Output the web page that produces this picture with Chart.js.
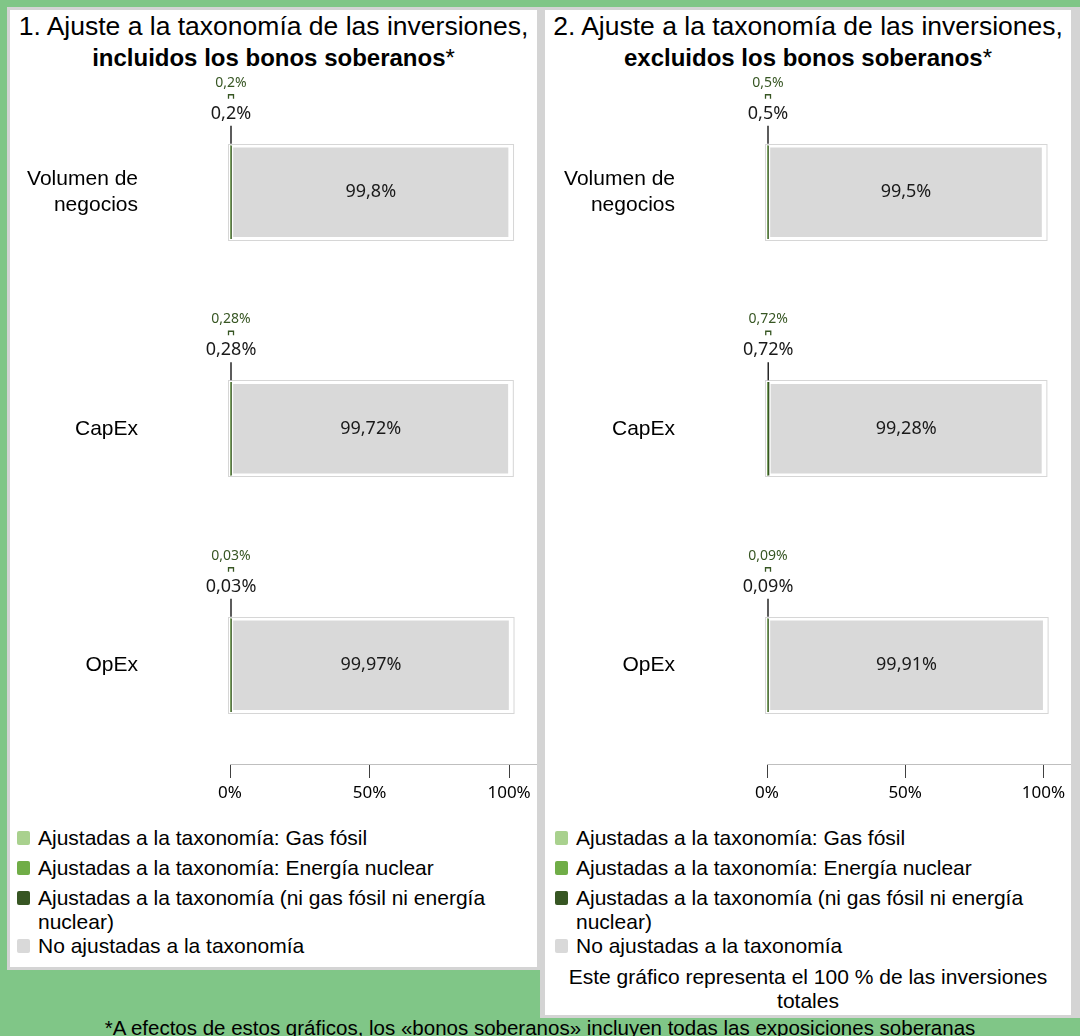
<!DOCTYPE html>
<html lang="es">
<head>
<meta charset="utf-8">
<title>Ajuste a la taxonomía de las inversiones</title>
<script src="https://cdn.jsdelivr.net/npm/chart.js@4.4.1/dist/chart.umd.min.js"></script>
<style>
  html, body { margin: 0; padding: 0; }
  body {
    width: 1080px; height: 1036px; overflow: hidden; position: relative;
    background: #80c687; color: #000;
    font-family: "Liberation Sans", Arial, sans-serif;
  }
  .panel { position: absolute; top: 7px; background: #fff; border: 3px solid #d4d4d4; box-sizing: border-box; }
  #left { left: 7px; width: 533px; height: 963px; }
  #right { left: 540px; width: 540px; height: 1011px; border-left-width: 5px; border-right-width: 9px; }
  .title { position: absolute; left: 0; right: 0; top: 1px; text-align: center; font-size: 26.5px; line-height: 31px; }
  .title b { font-size: 24px; }
  .title i { font-style: normal; font-size: 24px; }
  .chartBox { position: absolute; left: 0; top: 50px; width: 527px; height: 755px; }
  #right .chartBox { width: 526px; }
  .legend { position: absolute; left: 7px; top: 816px; width: 500px; font-size: 21px; line-height: 24px; }
  #right .legend { left: 10px; }
  .legend div { position: relative; padding-left: 21px; margin-bottom: 6px; }
  .legend div:nth-child(3) { margin-bottom: 0; }
  .legend span { position: absolute; left: 0; top: 5px; width: 13px; height: 14px; border-radius: 2px; }
  .note { position: absolute; left: 14px; right: 14px; top: 955px; text-align: center; font-size: 21px; line-height: 24px; }
  .foot { position: absolute; left: 0; width: 1080px; top: 1016px; text-align: center; font-size: 20.5px; line-height: 24px; }
</style>
</head>
<body>
<div class="panel" id="left">
  <div class="title">1. Ajuste a la taxonomía de las inversiones,<br><b>incluidos los bonos soberanos</b><i>*</i></div>
  <div class="chartBox"><canvas id="chartInc"></canvas></div>
  <div class="legend" id="legendInc"></div>
</div>
<div class="panel" id="right">
  <div class="title">2. Ajuste a la taxonomía de las inversiones,<br><b>excluidos los bonos soberanos</b><i>*</i></div>
  <div class="chartBox"><canvas id="chartExc"></canvas></div>
  <div class="legend" id="legendExc"></div>
  <div class="note">Este gráfico representa el 100 % de las inversiones totales</div>
</div>
<div class="foot">*A efectos de estos gráficos, los «bonos soberanos» incluyen todas las exposiciones soberanas</div>

<script>
const categories = [['Volumen de', 'negocios'], 'CapEx', 'OpEx'];
const seriesNames = [
  'Ajustadas a la taxonomía: Gas fósil',
  'Ajustadas a la taxonomía: Energía nuclear',
  'Ajustadas a la taxonomía (ni gas fósil ni energía nuclear)',
  'No ajustadas a la taxonomía'
];
const seriesColors = ['#a9d18e', '#70ad47', '#375623', '#d9d9d9'];
const xTickValues = [0, 50, 100];

// 1. incluidos los bonos soberanos
const incGas = [0, 0, 0];
const incNuclear = [0, 0, 0];
const incOther = [0.2, 0.28, 0.03];
const incNotAligned = [99.8, 99.72, 99.97];

// 2. excluidos los bonos soberanos
const excGas = [0, 0, 0];
const excNuclear = [0, 0, 0];
const excOther = [0.5, 0.72, 0.09];
const excNotAligned = [99.5, 99.28, 99.91];

Chart.defaults.font.family = '"Liberation Sans", Arial, sans-serif';
Chart.defaults.color = '#000';

function pct(v) {
  return String(v).replace('.', ',') + '%';
}

// value labels, leader lines and the light frame round each bar
const barLabels = {
  id: 'barLabels',
  afterDatasetsDraw(chart) {
    const ctx = chart.ctx;
    const x0 = chart.scales.x.getPixelForValue(0);
    const segMeta = chart.getDatasetMeta(2);
    const restMeta = chart.getDatasetMeta(3);
    ctx.save();
    restMeta.data.forEach((bar, i) => {
      const seg = segMeta.data[i];
      const top = bar.y - bar.height / 2;

      ctx.strokeStyle = '#d6d6d6';
      ctx.lineWidth = 1;
      ctx.strokeRect(Math.round(x0) - 1.5, Math.round(top) - 1.5, bar.x - x0 + 5, bar.height + 3);

      ctx.textAlign = 'center';
      ctx.textBaseline = 'middle';
      ctx.fillStyle = '#1a1a1a';
      ctx.font = '18px "Noto Sans"';
      ctx.fillText(pct(chart.data.datasets[3].data[i]), (bar.x + bar.base) / 2, bar.y);

      const sx = (seg.x + seg.base) / 2;
      const txt = pct(chart.data.datasets[2].data[i]);
      ctx.fillText(txt, sx, top - 32);

      ctx.strokeStyle = '#262626';
      ctx.lineWidth = 1.5;
      ctx.beginPath();
      ctx.moveTo(sx, top - 20);
      ctx.lineTo(sx, top - 2);
      ctx.stroke();

      ctx.fillStyle = '#375623';
      ctx.font = '14px "Noto Sans"';
      ctx.fillText(txt, sx, top - 63);

      ctx.strokeStyle = '#375623';
      ctx.lineWidth = 1.3;
      ctx.beginPath();
      ctx.moveTo(sx - 2.5, top - 47);
      ctx.lineTo(sx - 2.5, top - 51);
      ctx.lineTo(sx + 2.5, top - 51);
      ctx.lineTo(sx + 2.5, top - 47);
      ctx.stroke();
    });
    ctx.restore();
  }
};

function makeChart(id, yAxisWidth, gas, nuclear, other, notAligned) {
  const series = [gas, nuclear, other, notAligned];
  return new Chart(document.getElementById(id), {
    type: 'bar',
    data: {
      labels: categories,
      datasets: series.map((d, k) => ({
        label: seriesNames[k],
        data: d,
        backgroundColor: seriesColors[k],
        borderColor: '#ffffff',
        borderWidth: k === 3 ? 2 : 0,
        borderSkipped: false,
        minBarLength: k === 2 ? 1.5 : 0,
        barThickness: 93
      }))
    },
    options: {
      indexAxis: 'y',
      responsive: true,
      maintainAspectRatio: false,
      animation: false,
      layout: { padding: { top: 14, bottom: 31.5, left: 0, right: 0 } },
      plugins: { legend: { display: false }, tooltip: { enabled: false } },
      scales: {
        x: {
          stacked: true,
          min: 0,
          max: 110,
          position: { y: 2.42 },
          afterBuildTicks: (axis) => { axis.ticks = xTickValues.map(v => ({ value: v })); },
          ticks: {
            callback: (v) => v + '%',
            font: { family: '"Noto Sans"', size: 17 },
            color: '#000',
            padding: 5
          },
          grid: { drawOnChartArea: false, drawTicks: true, tickLength: 13, tickColor: '#404040' },
          border: { display: true, color: '#bfbfbf' }
        },
        y: {
          stacked: true,
          afterFit: (axis) => { axis.width = yAxisWidth; },
          ticks: { font: { size: 21 }, color: '#000', padding: 0 },
          grid: { display: true, drawOnChartArea: false, drawTicks: true, tickLength: 92, tickColor: 'rgba(0,0,0,0)' },
          border: { display: false }
        }
      }
    },
    plugins: [barLabels]
  });
}

function makeLegend(id) {
  const box = document.getElementById(id);
  seriesNames.forEach((name, k) => {
    const row = document.createElement('div');
    const sw = document.createElement('span');
    sw.style.background = seriesColors[k];
    row.appendChild(sw);
    row.appendChild(document.createTextNode(name));
    box.appendChild(row);
  });
}

makeChart('chartInc', 220, incGas, incNuclear, incOther, incNotAligned);
makeChart('chartExc', 222, excGas, excNuclear, excOther, excNotAligned);
makeLegend('legendInc');
makeLegend('legendExc');
</script>
</body>
</html>
